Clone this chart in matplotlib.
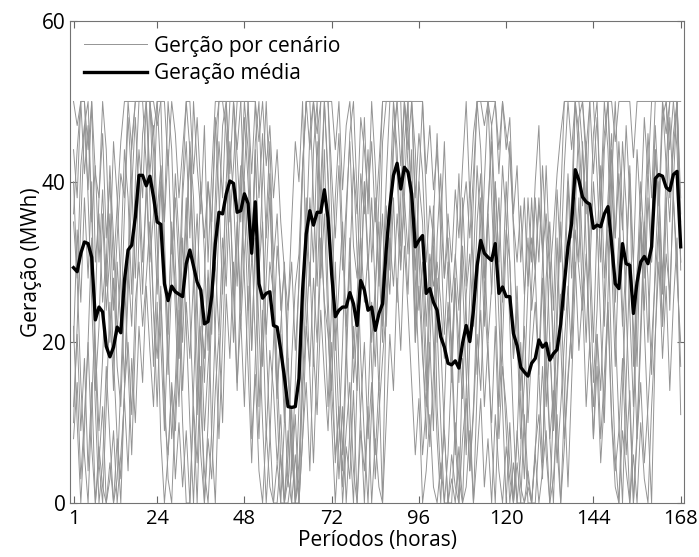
import numpy as np
import matplotlib.pyplot as plt

hours = np.arange(1, 169)

# generation mean (MWh)
media = [29.3, 28.8, 31.1, 32.5, 32.3, 30.6, 22.8, 24.4, 23.8, 19.5,
         18.2, 19.4, 21.9, 21.2, 27.7, 31.5, 32.1, 35.6, 40.8, 40.8,
         39.5, 40.7, 38.1, 35.0, 34.7, 27.3, 25.2, 27.0, 26.3, 26.0,
         25.7, 29.8, 31.5, 29.5, 27.5, 26.5, 22.3, 22.6, 25.7, 32.3,
         36.2, 36.0, 38.5, 40.1, 39.8, 36.2, 36.4, 38.5, 37.3, 31.1,
         37.5, 27.3, 25.5, 26.1, 26.3, 22.1, 21.9, 19.0, 15.7, 12.0,
         11.9, 12.0, 15.5, 26.5, 33.5, 36.4, 34.6, 36.2, 36.2, 39.0,
         35.5, 28.5, 23.2, 24.0, 24.4, 24.4, 26.2, 24.8, 22.1, 27.7,
         26.5, 24.0, 24.4, 21.5, 23.6, 24.8, 31.5, 36.9, 40.8, 42.3,
         39.1, 41.8, 41.2, 38.5, 31.9, 32.7, 33.3, 26.1, 26.7, 25.0,
         24.0, 20.7, 19.4, 17.4, 17.2, 17.7, 16.8, 19.9, 22.1, 20.1,
         24.0, 29.5, 32.7, 31.1, 30.6, 30.2, 32.3, 26.1, 26.9, 25.7,
         25.7, 21.1, 19.6, 16.9, 16.3, 15.8, 17.4, 18.0, 20.3, 19.4,
         19.9, 17.8, 18.6, 19.1, 22.3, 27.3, 31.9, 34.8, 41.5, 40.2,
         38.1, 37.5, 37.2, 34.2, 34.6, 34.4, 36.0, 36.9, 32.3, 27.3,
         26.7, 32.3, 29.8, 29.6, 23.6, 27.5, 30.0, 30.7, 29.8, 31.9,
         40.4, 40.9, 40.7, 39.3, 38.9, 40.9, 41.3, 31.9]

# scenarios (MWh), estimated from the chart
cen_a = [44, 38, 50, 41, 47, 35, 42, 30, 39, 27, 36, 24, 33, 41, 38, 50, 44, 50, 50, 50,
         50, 50, 46, 50, 41, 35, 44, 31, 38, 29, 14, 25, 18, 28, 11, 22, 9, 17, 24, 30,
         21, 33, 27, 39, 26, 35, 22, 31, 38, 19, 33, 12, 24, 8, 19, 14, 5, 11, 0, 6,
         18, 27, 31, 42, 50, 44, 50, 46, 50, 50, 50, 41, 33, 42, 29, 37, 45, 32, 28, 41,
         36, 44, 30, 38, 27, 45, 50, 50, 50, 50, 50, 50, 50, 50, 38, 46, 41, 30, 37, 33,
         12, 3, 9, 0, 6, 2, 0, 8, 13, 4, 11, 21, 14, 26, 18, 10, 22, 8, 17, 12,
         5, 0, 9, 2, 0, 4, 0, 7, 11, 3, 28, 35, 24, 39, 30, 42, 50, 44, 50, 50,
         50, 44, 50, 41, 48, 37, 46, 50, 39, 33, 41, 34, 47, 38, 30, 44, 36, 48, 41, 50,
         50, 50, 50, 46, 50, 50, 50, 38]
cen_b = [12, 21, 9, 18, 4, 15, 0, 7, 2, 0, 5, 0, 8, 3, 14, 20, 11, 25, 30, 22,
         28, 35, 24, 18, 27, 11, 6, 15, 9, 20, 38, 45, 33, 50, 42, 36, 47, 30, 41, 50,
         50, 50, 50, 50, 50, 44, 50, 50, 50, 41, 50, 38, 46, 33, 41, 30, 36, 24, 29, 17,
         8, 0, 5, 14, 22, 17, 28, 20, 33, 25, 21, 14, 6, 11, 2, 9, 15, 4, 0, 12,
         20, 8, 15, 3, 11, 18, 24, 33, 27, 36, 29, 38, 31, 44, 20, 27, 18, 12, 20, 9,
         33, 41, 28, 36, 30, 39, 33, 42, 50, 38, 46, 50, 50, 50, 50, 47, 50, 41, 50, 44,
         48, 36, 42, 30, 38, 27, 33, 29, 37, 32, 17, 8, 14, 5, 12, 20, 27, 18, 34, 29,
         24, 31, 19, 12, 21, 8, 16, 25, 11, 4, 9, 18, 6, 14, 0, 8, 15, 5, 12, 20,
         28, 35, 22, 31, 26, 38, 30, 17]
cen_c = [35, 28, 42, 47, 39, 50, 30, 36, 25, 31, 20, 28, 17, 12, 25, 30, 22, 35, 44, 38,
         50, 41, 47, 36, 42, 30, 21, 34, 27, 18, 27, 35, 43, 28, 36, 24, 18, 29, 21, 34,
         45, 38, 50, 41, 50, 43, 35, 48, 40, 30, 44, 29, 35, 21, 30, 26, 14, 21, 10, 18,
         4, 11, 0, 15, 27, 38, 30, 45, 36, 50, 41, 30, 19, 27, 35, 22, 30, 18, 26, 33,
         25, 31, 20, 27, 35, 22, 37, 29, 44, 50, 42, 50, 46, 38, 29, 40, 35, 22, 31, 27,
         30, 25, 18, 24, 15, 27, 20, 13, 26, 31, 22, 35, 41, 28, 37, 45, 30, 38, 25, 34,
         30, 18, 27, 14, 22, 10, 19, 25, 16, 28, 12, 20, 9, 16, 25, 30, 41, 33, 50, 46,
         37, 45, 29, 40, 33, 42, 28, 36, 44, 25, 33, 22, 30, 41, 17, 29, 35, 24, 38, 30,
         44, 37, 50, 42, 35, 46, 50, 29]
cen_d = [50, 47, 50, 50, 44, 50, 41, 38, 46, 33, 40, 29, 37, 45, 50, 50, 50, 50, 50, 50,
         50, 50, 50, 47, 50, 50, 42, 50, 46, 38, 44, 50, 50, 41, 48, 39, 33, 40, 35, 46,
         50, 50, 50, 50, 50, 50, 50, 50, 50, 50, 50, 45, 50, 42, 47, 38, 44, 35, 29, 24,
         30, 19, 27, 41, 50, 50, 50, 50, 50, 50, 50, 50, 44, 50, 39, 47, 50, 42, 36, 48,
         44, 38, 45, 35, 42, 50, 50, 50, 50, 50, 50, 50, 50, 50, 50, 50, 50, 41, 47, 39,
         44, 36, 28, 33, 25, 31, 24, 36, 40, 33, 41, 50, 50, 47, 50, 50, 50, 44, 50, 46,
         43, 35, 30, 37, 26, 33, 24, 29, 38, 31, 36, 28, 34, 41, 46, 50, 50, 50, 50, 50,
         50, 50, 50, 50, 50, 50, 50, 50, 50, 45, 50, 50, 50, 50, 43, 50, 50, 50, 50, 50,
         50, 50, 50, 50, 50, 50, 50, 50]
cen_e = [8, 15, 3, 11, 20, 7, 0, 5, 12, 0, 3, 9, 0, 6, 13, 4, 18, 10, 22, 15,
         27, 19, 12, 25, 8, 0, 6, 14, 3, 10, 2, 9, 0, 12, 5, 17, 0, 8, 3, 14,
         21, 10, 26, 18, 30, 15, 23, 12, 27, 8, 16, 4, 0, 9, 2, 0, 5, 0, 0, 3,
         0, 6, 0, 8, 15, 4, 19, 11, 24, 16, 9, 20, 5, 12, 0, 7, 3, 14, 0, 9,
         4, 12, 0, 8, 2, 0, 10, 21, 14, 28, 19, 32, 24, 15, 6, 13, 0, 4, 11, 2,
         0, 5, 0, 0, 3, 0, 7, 0, 2, 9, 0, 6, 13, 2, 8, 0, 11, 4, 0, 7,
         3, 0, 5, 0, 0, 2, 0, 6, 0, 4, 9, 0, 3, 11, 0, 7, 15, 22, 30, 19,
         26, 12, 20, 8, 17, 5, 13, 24, 10, 2, 0, 9, 4, 0, 6, 0, 10, 3, 0, 12,
         21, 30, 18, 27, 14, 25, 33, 11]
cen_f = [40, 28, 15, 6, 0, 12, 25, 38, 50, 44, 30, 18, 8, 0, 14, 30, 45, 50, 50, 50,
         42, 30, 36, 50, 50, 33, 20, 8, 15, 27, 40, 50, 44, 31, 18, 6, 0, 10, 24, 38,
         50, 50, 46, 35, 42, 50, 50, 37, 24, 30, 45, 50, 34, 20, 9, 0, 0, 6, 0, 0,
         4, 15, 28, 42, 50, 50, 38, 27, 40, 50, 50, 36, 22, 10, 4, 17, 30, 42, 31, 18,
         8, 0, 12, 26, 38, 50, 50, 50, 50, 50, 50, 50, 44, 50, 36, 24, 30, 18, 7, 16,
         28, 20, 9, 0, 0, 10, 3, 0, 14, 26, 38, 50, 44, 32, 20, 27, 40, 30, 18, 9,
         0, 5, 0, 0, 11, 3, 0, 0, 8, 17, 6, 0, 12, 25, 38, 50, 50, 50, 50, 50,
         44, 36, 50, 50, 41, 30, 44, 50, 35, 22, 10, 0, 15, 30, 22, 8, 20, 34, 46, 38,
         50, 50, 50, 50, 44, 50, 50, 35]
cen_g = [10, 22, 35, 47, 50, 36, 20, 9, 18, 30, 42, 33, 21, 30, 44, 38, 26, 40, 50, 50,
         50, 38, 24, 12, 26, 14, 3, 0, 12, 24, 10, 0, 0, 14, 27, 40, 31, 19, 35, 48,
         38, 26, 40, 50, 50, 36, 24, 41, 50, 33, 20, 8, 22, 35, 45, 30, 17, 5, 0, 9,
         0, 0, 3, 20, 33, 46, 50, 42, 28, 36, 22, 10, 0, 8, 20, 35, 46, 50, 38, 26,
         40, 31, 17, 6, 15, 0, 26, 38, 50, 44, 32, 45, 50, 36, 22, 40, 50, 38, 24, 35,
         46, 33, 21, 30, 18, 6, 19, 32, 24, 11, 0, 14, 27, 40, 50, 38, 26, 12, 20, 33,
         45, 34, 21, 8, 15, 27, 38, 29, 16, 5, 18, 30, 20, 7, 0, 12, 25, 38, 50, 43,
         31, 20, 33, 46, 50, 36, 22, 34, 18, 6, 0, 14, 28, 42, 30, 17, 35, 22, 10, 0,
         20, 35, 48, 50, 38, 44, 50, 30]
cen_h = [36, 44, 50, 50, 38, 25, 12, 0, 5, 17, 8, 0, 3, 15, 28, 17, 6, 20, 33, 46,
         50, 50, 38, 26, 40, 29, 16, 28, 41, 33, 20, 32, 45, 38, 25, 12, 4, 0, 9, 22,
         35, 47, 50, 38, 26, 14, 28, 40, 31, 19, 33, 22, 10, 0, 8, 20, 32, 26, 13, 2,
         12, 0, 0, 8, 22, 30, 17, 35, 50, 50, 40, 27, 15, 3, 12, 0, 9, 22, 14, 35,
         48, 36, 50, 42, 28, 36, 22, 33, 46, 50, 50, 35, 26, 40, 28, 17, 6, 12, 25, 37,
         22, 10, 0, 6, 17, 30, 41, 28, 16, 4, 12, 25, 38, 26, 36, 47, 35, 23, 12, 0,
         10, 0, 8, 20, 9, 0, 0, 6, 18, 30, 42, 30, 18, 33, 20, 8, 16, 22, 36, 48,
         50, 42, 28, 15, 24, 38, 50, 44, 30, 17, 31, 45, 37, 24, 12, 28, 40, 32, 20, 34,
         47, 38, 26, 42, 50, 50, 44, 30]
cen_i = [22, 10, 0, 9, 20, 33, 18, 5, 0, 12, 25, 14, 30, 22, 36, 48, 40, 28, 41, 30,
         38, 50, 44, 32, 20, 9, 22, 35, 24, 12, 26, 38, 24, 11, 0, 15, 28, 40, 33, 20,
         8, 20, 33, 45, 38, 27, 40, 50, 44, 31, 43, 30, 17, 28, 38, 25, 13, 22, 30, 18,
         6, 0, 12, 25, 38, 27, 44, 50, 36, 24, 12, 25, 38, 46, 33, 20, 8, 0, 15, 28,
         40, 29, 38, 26, 14, 28, 40, 50, 50, 41, 30, 38, 50, 50, 44, 31, 20, 8, 19, 32,
         20, 34, 45, 31, 18, 28, 15, 38, 27, 40, 28, 16, 24, 12, 20, 8, 0, 14, 27, 40,
         30, 18, 25, 12, 3, 15, 27, 38, 30, 42, 33, 20, 10, 22, 35, 24, 40, 28, 38, 30,
         45, 32, 20, 8, 21, 14, 26, 38, 46, 33, 45, 36, 24, 12, 0, 9, 22, 35, 28, 16,
         30, 40, 28, 38, 24, 40, 50, 36]
cen_j = [20, 34, 25, 38, 28, 40, 14, 22, 36, 24, 31, 45, 38, 27, 15, 26, 39, 48, 38, 26,
         40, 28, 17, 30, 42, 36, 50, 44, 30, 18, 33, 22, 10, 0, 13, 26, 15, 28, 8, 0,
         16, 28, 40, 31, 20, 34, 42, 28, 17, 5, 18, 30, 40, 50, 38, 25, 12, 0, 10, 24,
         35, 45, 40, 50, 28, 16, 5, 18, 30, 44, 26, 14, 30, 17, 6, 20, 33, 15, 22, 10,
         0, 12, 25, 17, 30, 20, 32, 26, 38, 25, 38, 50, 42, 34, 20, 33, 26, 14, 30, 20,
         8, 0, 12, 25, 20, 8, 0, 18, 6, 20, 30, 42, 34, 22, 36, 26, 40, 30, 42, 35,
         22, 10, 0, 6, 25, 38, 30, 40, 47, 32, 20, 8, 0, 14, 26, 14, 2, 15, 28, 38,
         25, 40, 32, 20, 35, 22, 10, 26, 40, 50, 38, 24, 12, 0, 10, 24, 36, 28, 42, 30,
         44, 33, 22, 36, 48, 38, 28, 20]

cenarios = [cen_a, cen_b, cen_c, cen_d, cen_e, cen_f, cen_g, cen_h, cen_i, cen_j]

plt.rcParams['font.family'] = ['Open Sans', 'DejaVu Sans']
fig = plt.figure(figsize=(6.99, 5.57), dpi=100)
ax = fig.add_axes([0.100, 0.097, 0.879, 0.865])

for k, c in enumerate(cenarios):
    ax.plot(hours, c, color='0.58', lw=0.7,
            label='Gerção por cenário' if k == 0 else None)
ax.plot(hours, media, color='black', lw=2.4, label='Geração média')

ax.set_xlim(0, 169)
ax.set_ylim(0, 60)
ax.set_xticks([1, 24, 48, 72, 96, 120, 144, 168])
ax.set_yticks([0, 20, 40, 60])
ax.tick_params(direction='in', top=True, right=True, labelsize=15,
               length=5, color='0.4')
ax.tick_params(axis='x', pad=4, labelsize=14.5)
ax.tick_params(axis='y', pad=3)
for s in ax.spines.values():
    s.set_color('0.45')
ax.set_xlabel('Períodos (horas)', fontsize=15)
ax.xaxis.set_label_coords(0.5, -0.056)
ax.set_ylabel('Geração (MWh)', fontsize=15, labelpad=0)

leg = ax.legend(loc='upper left', frameon=False, fontsize=15,
                handlelength=3.0, handletextpad=0.35, labelspacing=0.3,
                borderaxespad=0.3)

fig.savefig('out.png', dpi=100)
